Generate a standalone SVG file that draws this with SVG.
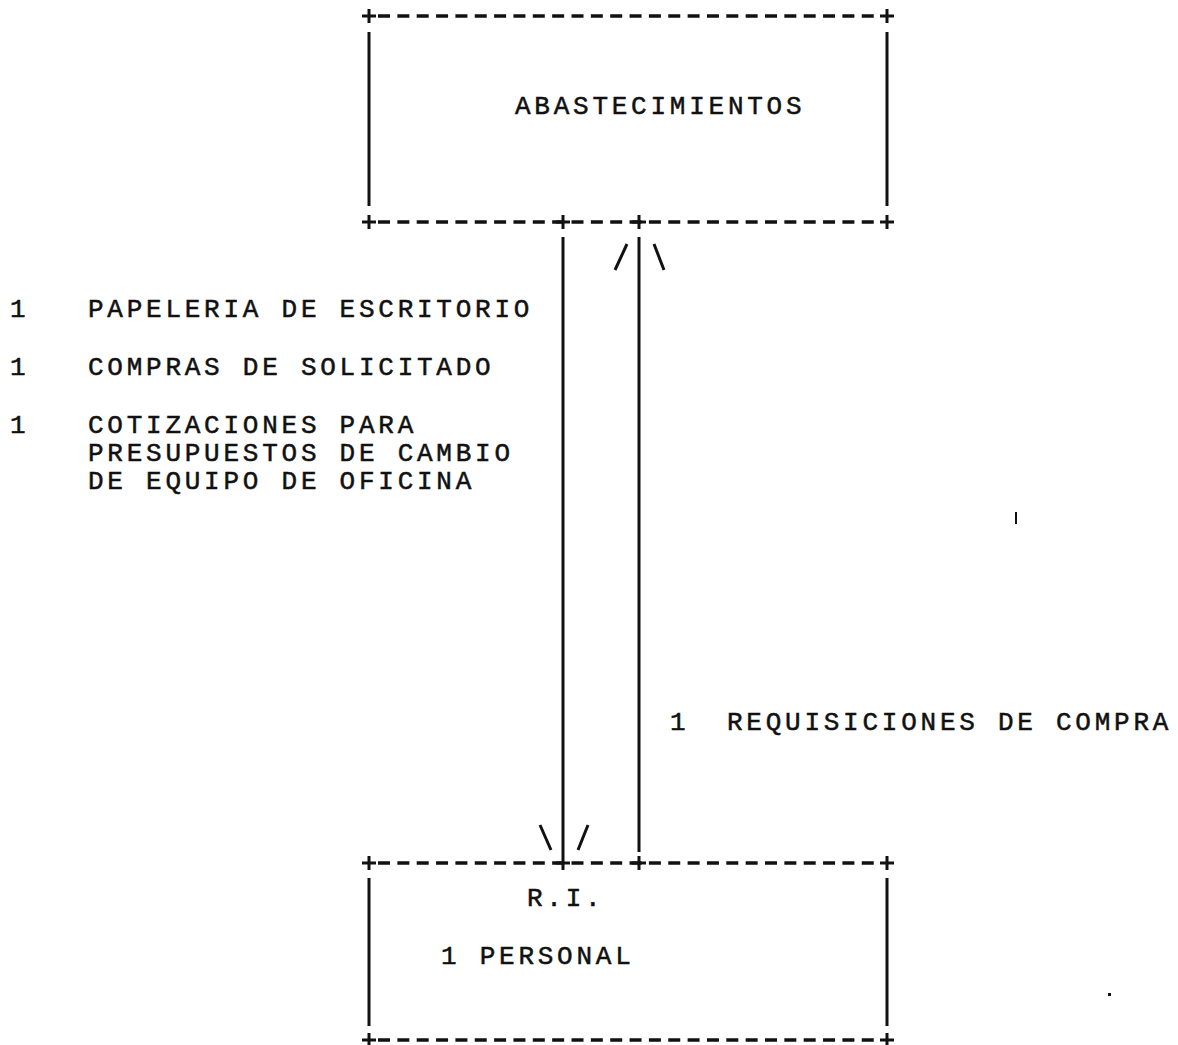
<svg xmlns="http://www.w3.org/2000/svg" width="1178" height="1045" viewBox="0 0 1178 1045">
<style>
text{font-family:"Liberation Mono","Courier New",monospace;font-size:26px;letter-spacing:3.75px;fill:#111;stroke:#111;stroke-width:0.5}
.d{stroke:#111;stroke-width:3.5;stroke-dasharray:12 7.35;fill:none}
.s{stroke:#111;stroke-width:3;fill:none}
</style>
<defs>
<path id="plus" d="M-7 0H7M0 -7V7" stroke="#111" stroke-width="3"/>
</defs>
<rect width="1178" height="1045" fill="#fff"/>
<g id="abastecimientos">
<line class="d" x1="378" y1="16" x2="880" y2="16"/>
<line class="d" x1="378" y1="222" x2="880" y2="222"/>
<line class="s" x1="369" y1="32" x2="369" y2="206"/>
<line class="s" x1="887" y1="32" x2="887" y2="206"/>
<use href="#plus" x="369" y="16"/><use href="#plus" x="887" y="16"/>
<use href="#plus" x="369" y="222"/><use href="#plus" x="563" y="222"/><use href="#plus" x="639" y="222"/><use href="#plus" x="887" y="222"/>
<text x="515" y="114">ABASTECIMIENTOS</text>
</g>
<g id="ri">
<line class="d" x1="378" y1="863" x2="880" y2="863"/>
<line class="d" x1="378" y1="1040" x2="880" y2="1040"/>
<line class="s" x1="369" y1="878" x2="369" y2="1026"/>
<line class="s" x1="887" y1="878" x2="887" y2="1026"/>
<use href="#plus" x="369" y="863"/><use href="#plus" x="563" y="863"/><use href="#plus" x="639" y="863"/><use href="#plus" x="887" y="863"/>
<use href="#plus" x="369" y="1040"/><use href="#plus" x="887" y="1040"/>
<text x="527" y="906">R.I.</text>
<text x="441" y="964">1 PERSONAL</text>
</g>
<g id="connectors">
<line class="s" x1="563" y1="237" x2="563" y2="856"/>
<line class="s" x1="639" y1="237" x2="639" y2="852"/>
<path class="s" d="M627 244L615 270M654 244L664 270"/>
<path class="s" d="M540 825L551 850M588 825L578 850"/>
<g id="left-labels">
<text x="10" y="317">1</text><text x="88" y="317">PAPELERIA DE ESCRITORIO</text>
<text x="10" y="375">1</text><text x="88" y="375">COMPRAS DE SOLICITADO</text>
<text x="10" y="433">1</text><text x="88" y="433">COTIZACIONES PARA</text>
<text x="88" y="461">PRESUPUESTOS DE CAMBIO</text>
<text x="88" y="489">DE EQUIPO DE OFICINA</text>
</g>
<g id="right-label">
<text x="670" y="730">1</text><text x="727" y="730">REQUISICIONES DE COMPRA</text>
</g>
</g>
<path d="M1016 512V524" stroke="#111" stroke-width="2"/>
<rect x="1108" y="993" width="3" height="3" fill="#111"/>
</svg>
